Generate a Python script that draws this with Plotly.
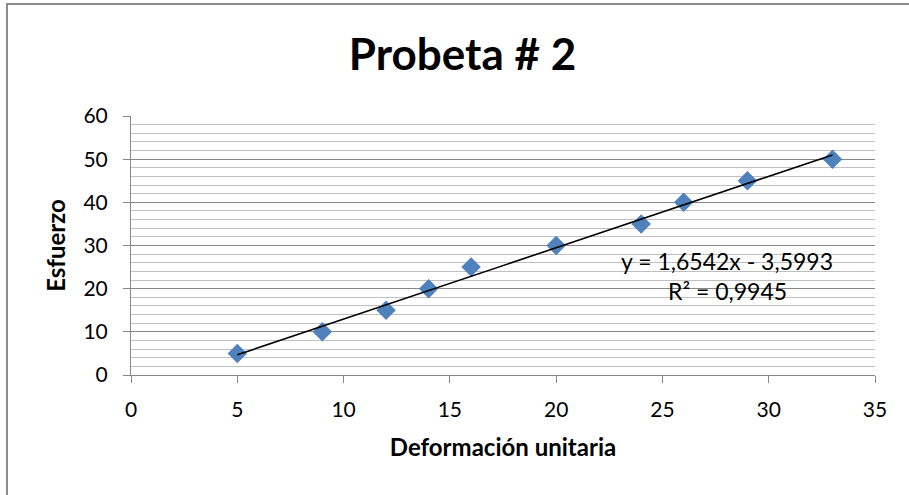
import numpy as np
import plotly.graph_objects as go

# Data
deformacion = [5, 9, 12, 14, 16, 20, 24, 26, 29, 33]
esfuerzo = [5, 10, 15, 20, 25, 30, 35, 40, 45, 50]
title_text = "Probeta # 2"
x_title = "Deformación unitaria"
y_title = "Esfuerzo"
eq_text = "y = 1,6542x - 3,5993"
r2_text = "R² = 0,9945"

# Linear trendline from the data
slope, intercept = np.polyfit(deformacion, esfuerzo, 1)
tx = [min(deformacion), max(deformacion)]
ty = [slope * v + intercept for v in tx]

FONT = "Lato"
GRID_MAJ = "#868686"
GRID_MIN = "#bfbfbf"

fig = go.Figure()
fig.add_trace(go.Scatter(
    x=deformacion, y=esfuerzo, mode="markers",
    marker=dict(symbol="diamond", size=15, color="#4F81BD"),
    showlegend=False, hoverinfo="x+y"))
fig.add_trace(go.Scatter(
    x=tx, y=ty, mode="lines",
    line=dict(color="black", width=1.6),
    showlegend=False, hoverinfo="skip"))

fig.update_layout(
    width=909, height=495,
    margin=dict(l=131, r=34, t=116, b=120),
    paper_bgcolor="white", plot_bgcolor="white",
    font=dict(family=FONT, color="black"),
    title=dict(text="<b>" + title_text + "</b>", x=462.5 / 909,
               xanchor="center", y=1 - 55 / 495, yanchor="middle",
               font=dict(size=44, family=FONT, color="black")),
    xaxis=dict(range=[0, 35], dtick=5, tick0=0, showgrid=False, zeroline=False,
               showline=True, linecolor=GRID_MAJ, linewidth=1,
               ticks="outside", ticklen=7, tickcolor=GRID_MAJ,
               tickfont=dict(size=21, family=FONT, color="black"),
               ticklabelstandoff=9,
               title=dict(text="<b>" + x_title + "</b>", standoff=18,
                          font=dict(size=24, family=FONT, color="black"))),
    yaxis=dict(range=[0, 60], dtick=10, tick0=0, showgrid=True, gridcolor=GRID_MAJ,
               gridwidth=1, zeroline=False,
               showline=True, linecolor=GRID_MAJ, linewidth=1,
               ticks="outside", ticklen=7, tickcolor=GRID_MAJ,
               tickfont=dict(size=21, family=FONT, color="black"),
               ticklabelstandoff=11,
               minor=dict(dtick=2, showgrid=True, gridcolor=GRID_MIN, gridwidth=1),
               title=dict(text="<b>" + y_title + "</b>", standoff=11,
                          font=dict(size=24, family=FONT, color="black"))),
)

fig.add_annotation(x=(727 - 131) / 744, y=(375 - 261) / 259, xref="paper", yref="paper",
                   text=eq_text, showarrow=False, xanchor="center", yanchor="middle",
                   font=dict(size=23, family=FONT, color="black"))
fig.add_annotation(x=(727 - 131) / 744, y=(375 - 291) / 259, xref="paper", yref="paper",
                   text=r2_text, showarrow=False, xanchor="center", yanchor="middle",
                   font=dict(size=23, family=FONT, color="black"))

# Outer chart border (left and top visible)
fig.add_shape(type="rect", xref="paper", yref="paper",
              x0=(7 - 131) / 744, x1=(930 - 131) / 744,
              y0=(375 - 520) / 259, y1=(375 - 4) / 259,
              line=dict(color="#8c8c8c", width=2), layer="below")

fig.write_html("out.html", config={"displayModeBar": False},
               post_script="document.body.style.margin='0';document.body.style.overflow='hidden';")
